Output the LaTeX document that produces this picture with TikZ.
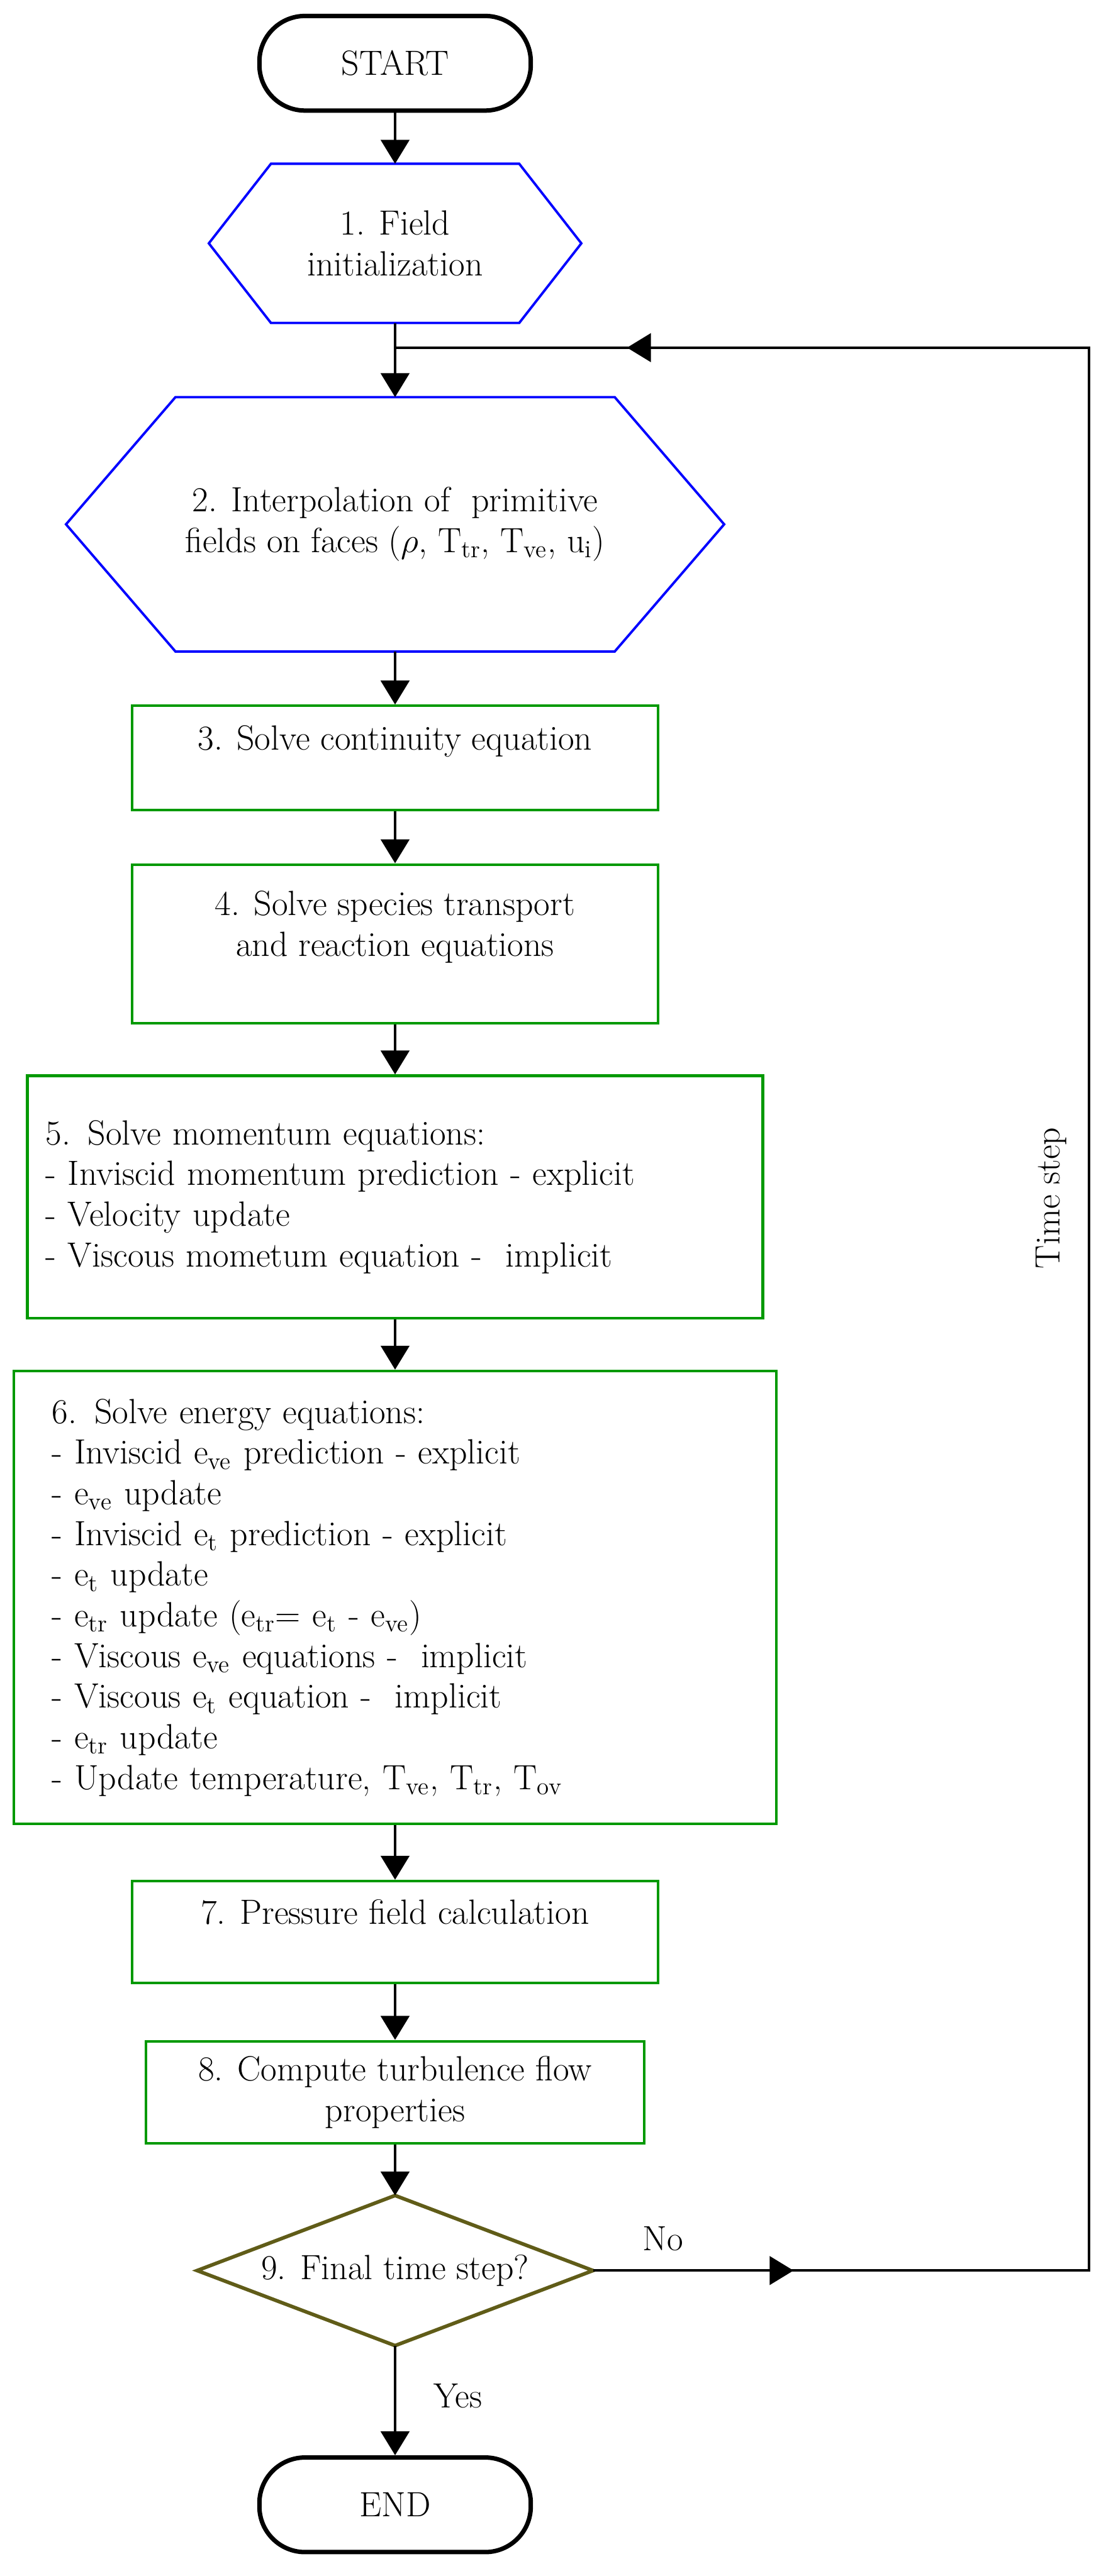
\documentclass[tikz,border=0pt]{standalone}
\usepackage{fontspec}
\usepackage{xcolor}
\usepackage{tikz}
\usetikzlibrary{arrows.meta,calc,decorations.markings}

\definecolor{boxgreen}{RGB}{0,153,0}
\definecolor{hexblue}{RGB}{0,0,255}
\definecolor{decolive}{RGB}{96,92,24}
\newcommand{\sbs}[1]{\textsubscript{#1}}

\begin{document}
\begin{tikzpicture}[every node/.style={font=\fontsize{17.5}{20.3}\selectfont},
  flow/.style={line width=1.3pt,-{Triangle[length=4.2mm,width=5mm]}},
  wire/.style={line width=1.3pt},
  term/.style={draw,line width=2.2pt,rounded corners=0.8cm,minimum width=4.76cm,minimum height=1.66cm},
  stepbox/.style={draw=boxgreen,line width=1.3pt,align=center,inner sep=0pt},
  listbox/.style={draw=boxgreen,line width=1.3pt,align=left,inner ysep=0pt},
  hexfit/.style={align=center,inner sep=0pt},
  hexline/.style={draw=hexblue,line width=1.2pt},
  decline/.style={draw=decolive,line width=1.8pt},
  loopmarks/.style={postaction={decorate},decoration={markings,
      mark=at position 0.0644 with {\arrow{Triangle[length=4.2mm,width=5mm]}},
      mark=at position 0.9255 with {\arrow{Triangle[length=4.2mm,width=5mm]}}}}]
  \useasboundingbox (0,0) rectangle (19.39,-45.20);

  % ---- start and initialization
  \node[term] (start) at (6.93,-1.11) {START};
  \node[hexfit, minimum width=6.52cm, minimum height=2.78cm] (init) at (6.93,-4.27) {1. Field\\initialization};
  \draw[hexline] ([xshift=1.09cm]init.north west) -- ([xshift=-1.09cm]init.north east) -- (init.east)
     -- ([xshift=-1.09cm]init.south east) -- ([xshift=1.09cm]init.south west) -- (init.west) -- cycle;

  % ---- interpolation (loop enters here)
  \coordinate (join) at (6.93,-6.10);
  \coordinate (rail) at (19.10,-6.10);
  \node[hexfit, minimum width=11.53cm, minimum height=4.45cm] (interp) at (6.93,-9.20)
     {2. Interpolation of \ primitive\\ fields on faces ($\rho$, T\sbs{tr}, T\sbs{ve}, u\sbs{i})};
  \draw[hexline] ([xshift=1.92cm]interp.north west) -- ([xshift=-1.92cm]interp.north east) -- (interp.east)
     -- ([xshift=-1.92cm]interp.south east) -- ([xshift=1.92cm]interp.south west) -- (interp.west) -- cycle;

  % ---- solver steps
  \node[stepbox, minimum width=9.22cm, minimum height=1.83cm] (cont) at (6.93,-13.30)
     {3. Solve continuity equation\\ \mbox{}};
  \node[stepbox, minimum width=9.22cm, minimum height=2.78cm] (species) at (6.93,-16.56)
     {4. Solve species transport\\ and reaction equations\\ \mbox{}};
  \node[listbox, minimum width=12.90cm, minimum height=4.25cm, inner xsep=0.32cm, text width=12.26cm] (momentum) at (6.93,-21.00)
     {5. Solve momentum equations:\\
      - Inviscid momentum prediction - explicit\\
      - Velocity update\\
      - Viscous mometum equation - \ implicit};
  \node[listbox, minimum width=13.37cm, minimum height=7.95cm, inner xsep=0.67cm, text width=12.03cm] (energy) at (6.93,-28.03)
     {6. Solve energy equations:\\
      - Inviscid e\sbs{ve} prediction - explicit\\
      - e\sbs{ve} update\\
      - Inviscid e\sbs{t} prediction - explicit\\
      - e\sbs{t} update\\
      - e\sbs{tr} update (e\sbs{tr}= e\sbs{t} - e\sbs{ve})\\
      - Viscous e\sbs{ve} equations - \ implicit\\
      - Viscous e\sbs{t} equation - \ implicit\\
      - e\sbs{tr} update\\
      - Update temperature, T\sbs{ve}, T\sbs{tr}, T\sbs{ov}};
  \node[stepbox, minimum width=9.22cm, minimum height=1.79cm] (pressure) at (6.93,-33.90)
     {7. Pressure field calculation\\ \mbox{}};
  \node[stepbox, minimum width=8.74cm, minimum height=1.79cm] (turb) at (6.93,-36.71)
     {8. Compute turbulence flow\\ properties};

  % ---- decision and end
  \node[inner sep=0pt, minimum width=6.93cm, minimum height=2.62cm] (final) at (6.93,-39.84) {9. Final time step?};
  \draw[decline] (final.north) -- (final.east) -- (final.south) -- (final.west) -- cycle;
  \node[term] (end) at (6.93,-43.95) {END};

  % ---- connectors
  \draw[flow] (start) -- (init);
  \draw[wire] (init) -- (join);
  \draw[flow] (join) -- (interp);
  \draw[flow] (interp) -- (cont);
  \draw[flow] (cont) -- (species);
  \draw[flow] (species) -- (momentum);
  \draw[flow] (momentum) -- (energy);
  \draw[flow] (energy) -- (pressure);
  \draw[flow] (pressure) -- (turb);
  \draw[flow] (turb) -- (final);
  \draw[flow] (final) -- (end);
  \draw[wire, loopmarks] (final.east) -- (final.east -| rail) -- (rail) -- (join);

  % ---- labels
  \node (nolbl) at (11.63,-39.28) {No};
  \node (yeslbl) at (8.03,-42.04) {Yes};
  \node[rotate=90] (steplbl) at (18.44,-21.02) {Time step};
\end{tikzpicture}
\end{document}
